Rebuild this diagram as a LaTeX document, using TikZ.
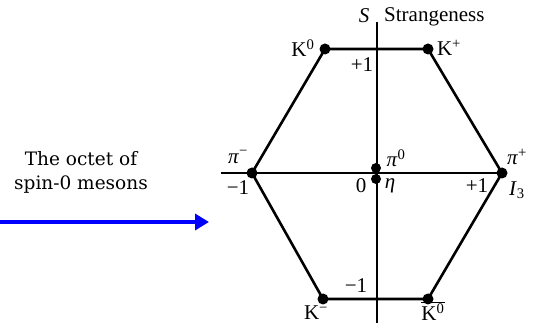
\documentclass[tikz,border=0pt]{standalone}
\usepackage{fontspec}
\setmainfont{Liberation Serif}
\newfontfamily\leftfont{DejaVu Serif}
\usetikzlibrary{arrows.meta,positioning}
\newcommand{\Kb}{$\overline{\hbox{K\textsuperscript{0}}}$}
\begin{document}
\begin{tikzpicture}[x=1pt,y=-1pt,
  meson/.style={circle, fill=black, inner sep=0pt, minimum size=11pt},
  lbl/.style={font=\fontsize{21}{24}\selectfont, inner sep=0pt},
  edge/.style={line width=2.6pt},
  axis/.style={line width=1.2pt}
]
  \useasboundingbox (0,0) rectangle (536,331);
  %% axes
  \coordinate (sbot) at (377,323);
  \coordinate (stop) at (377,22);
  \coordinate (ileft) at (221,173);
  \coordinate (iright) at (505,173);
  \draw[axis] (sbot) -- (stop);
  \draw[axis] (ileft) -- (iright);
  %% mesons
  \node[meson] (k0) at (325,49) {};
  \node[meson] (kplus) at (428,49) {};
  \node[meson] (piminus) at (252,173) {};
  \node[meson] (piplus) at (502,173) {};
  \node[meson] (kminus) at (323,299) {};
  \node[meson] (kbar) at (428,299) {};
  \node[meson, minimum size=10pt] (pizero) at (376,168) {};
  \node[meson, minimum size=10pt] (eta) at (376,179) {};
  %% hexagon
  \draw[edge] (k0.center) -- (kplus.center) -- (piplus.center) -- (kbar.center)
    -- (kminus.center) -- (piminus.center) -- cycle;
  %% labels
  \node[lbl] (sname) at (364,16) {\textit{S}};
  \node[lbl, anchor=west] (strange) at (384,17) {Strangeness};
  \node[lbl] (lk0) at (303,48) {K\textsuperscript{0}};
  \node[lbl] (lkplus) at (449,48) {K\textsuperscript{+}};
  \node[lbl] (splus) at (362,65) {+1};
  \node[lbl] (lpiminus) at (238,157) {\textit{π}\textsuperscript{−}};
  \node[lbl] (iminus) at (238,188) {−1};
  \node[lbl] (izero) at (361,186) {0};
  \node[lbl] (lpizero) at (396,158) {\textit{π}\textsuperscript{0}};
  \node[lbl] (leta) at (390,186) {\textit{η}};
  \node[lbl] (iplus) at (477,186) {+1};
  \node[lbl] (lpiplus) at (517,157) {\textit{π}\textsuperscript{+}};
  \node[lbl] (iname) at (517,190) {\textit{I}\textsubscript{3}};
  \node[lbl] (sminus) at (356,286) {−1};
  \node[lbl] (lkminus) at (316,313) {K\textsuperscript{−}};
  \node[lbl] (lkbar) at (433,311) {\Kb};
  %% caption and arrow
  \node[font=\leftfont\fontsize{18.5}{24}\selectfont, align=center] (octet) at (81,172)
    {The octet of\\spin-0 mesons};
  \coordinate (astart) at (0,222);
  \coordinate (aend) at (209,222);
  \draw[blue, line width=4pt, -{Triangle[length=14pt,width=16pt]}] (astart) -- (aend);
\end{tikzpicture}
\end{document}
